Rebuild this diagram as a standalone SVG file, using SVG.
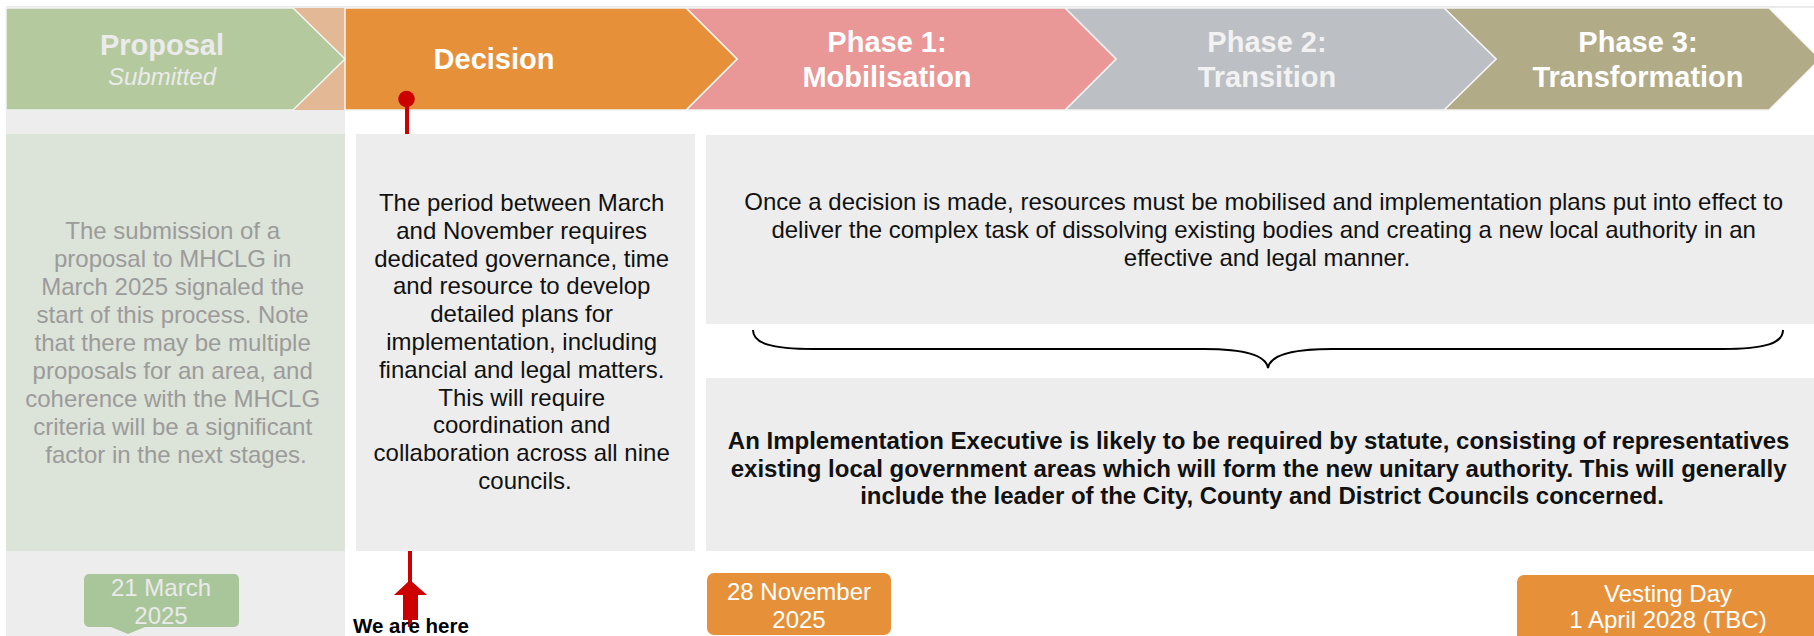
<svg xmlns="http://www.w3.org/2000/svg" width="1814" height="636" viewBox="0 0 1814 636">
<style>
text{font-family:"Liberation Sans",Arial,sans-serif}
.chev{stroke:#F4F4F4;stroke-width:1.5}
.ht{font-size:29px;font-weight:bold;fill:#FFFFFF;text-anchor:middle}
.body{font-size:24px;fill:#111111;text-anchor:middle}
.grey{fill:#EDEDED}
.date{font-size:24px;fill:#FFFFFF;text-anchor:middle}
</style>
<rect width="1814" height="636" fill="#FFFFFF"/>
<line x1="6" y1="7" x2="1814" y2="7" stroke="#E4E4E4" stroke-width="1.5"/>

<g id="phase3">
<polygon class="chev" points="1444,8 1769,8 1820,59 1769,110 1444,110 1496,59" fill="#B1AB88"/>
<text class="ht" x="1638" y="52">Phase 3:</text>
<text class="ht" x="1638" y="87">Transformation</text>
</g>
<g id="phase2">
<polygon class="chev" points="1065,8 1444,8 1496,59 1444,110 1065,110 1116,59" fill="#BCBFC3"/>
<text class="ht" x="1267" y="52" style="fill:#F2F2F2">Phase 2:</text>
<text class="ht" x="1267" y="87" style="fill:#F2F2F2">Transition</text>
</g>
<g id="phase1">
<polygon class="chev" points="686,8 1065,8 1116,59 1065,110 686,110 737,59" fill="#E99797"/>
<text class="ht" x="887" y="52">Phase 1:</text>
<text class="ht" x="887" y="87">Mobilisation</text>
</g>
<g id="decision">
<rect x="293" y="8" width="52" height="102" fill="#E2B994"/>
<polygon class="chev" points="345,8 686,8 737,59 686,110 345,110" fill="#E6913A"/>
<text class="ht" x="494" y="69">Decision</text>
</g>
<g id="proposal">
<polygon class="chev" points="6,8 293,8 345,59 293,110 6,110" fill="#B4C99E"/>
<text class="ht" x="162" y="55" style="fill:#EBEBEB">Proposal</text>
<text x="162" y="85" font-size="24" font-style="italic" fill="#EBEBEB" text-anchor="middle">Submitted</text>
</g>

<g id="proposal-box">
<rect class="grey" x="6" y="110" width="339" height="24"/>
<rect x="6" y="134" width="339" height="417" fill="#DCE3D8"/>
<rect class="grey" x="6" y="551" width="339" height="85"/>
<text class="body" style="fill:#9B9B9B">
<tspan x="176" y="239">The submission of a</tspan>
<tspan x="176" y="267">proposal to MHCLG in</tspan>
<tspan x="176" y="295">March 2025 signaled the</tspan>
<tspan x="176" y="323">start of this process. Note</tspan>
<tspan x="176" y="351">that there may be multiple</tspan>
<tspan x="176" y="379">proposals for an area, and</tspan>
<tspan x="176" y="407">coherence with the MHCLG</tspan>
<tspan x="176" y="435">criteria will be a significant</tspan>
<tspan x="176" y="463">factor in the next stages.</tspan>
</text>
</g>

<g id="decision-box">
<rect class="grey" x="356" y="134" width="339" height="417"/>
<text class="body">
<tspan x="525" y="211">The period between March</tspan>
<tspan x="525" y="239">and November requires</tspan>
<tspan x="525" y="267">dedicated governance, time</tspan>
<tspan x="525" y="294">and resource to develop</tspan>
<tspan x="525" y="322">detailed plans for</tspan>
<tspan x="525" y="350">implementation, including</tspan>
<tspan x="525" y="378">financial and legal matters.</tspan>
<tspan x="525" y="406">This will require</tspan>
<tspan x="525" y="433">coordination and</tspan>
<tspan x="525" y="461">collaboration across all nine</tspan>
<tspan x="525" y="489">councils.</tspan>
</text>
</g>

<g id="mobilise-box">
<rect class="grey" x="706" y="135" width="1108" height="189"/>
<text class="body">
<tspan x="1267" y="210">Once a decision is made, resources must be mobilised and implementation plans put into effect to</tspan>
<tspan x="1267" y="238">deliver the complex task of dissolving existing bodies and creating a new local authority in an</tspan>
<tspan x="1267" y="266">effective and legal manner.</tspan>
</text>
</g>

<g id="executive-box">
<rect class="grey" x="706" y="378" width="1108" height="173"/>
<text class="body" font-weight="bold">
<tspan x="1262" y="449">An Implementation Executive is likely to be required by statute, consisting of representatives</tspan>
<tspan x="1262" y="477">existing local government areas which will form the new unitary authority. This will generally</tspan>
<tspan x="1262" y="504">include the leader of the City, County and District Councils concerned.</tspan>
</text>
</g>

<g id="date-march">
<path d="M89,574 H234 A5,5 0 0 1 239,579 V622 A5,5 0 0 1 234,627 H145 L128,634 L111,627 H89 A5,5 0 0 1 84,622 V579 A5,5 0 0 1 89,574 Z" fill="#A9C69B"/>
<text class="date" style="fill:#EAEAEA"><tspan x="161" y="596">21 March</tspan><tspan x="161" y="624">2025</tspan></text>
</g>

<g id="date-november">
<rect x="707" y="573" width="184" height="62" rx="7" fill="#E6913A"/>
<text class="date"><tspan x="799" y="600">28 November</tspan><tspan x="799" y="628">2025</tspan></text>
</g>

<g id="date-vesting">
<rect x="1517" y="575" width="310" height="70" rx="7" fill="#E6913A"/>
<text class="date"><tspan x="1668" y="602">Vesting Day</tspan><tspan x="1668" y="628">1 April 2028 (TBC)</tspan></text>
</g>

<g id="connectors">
<line x1="407" y1="99" x2="407" y2="134" stroke="#CC0000" stroke-width="4"/>
<circle cx="406.5" cy="99" r="8.3" fill="#CC0000"/>
<line x1="410" y1="551" x2="410" y2="627" stroke="#CC0000" stroke-width="4"/>
<polygon points="410,580 427,595 418,595 418,620 403,620 403,595 394,595" fill="#CC0000"/>
<path d="M753,330 C753,343 770,349 814,349 L1204,349 C1245,349 1266,355 1268,368 C1270,355 1291,349 1332,349 L1722,349 C1766,349 1783,343 1783,330" fill="none" stroke="#000000" stroke-width="2"/>
</g>

<g id="we-are-here">
<text x="353" y="633" font-size="20.5" font-weight="bold" fill="#000000">We are here</text>
</g>
</svg>
